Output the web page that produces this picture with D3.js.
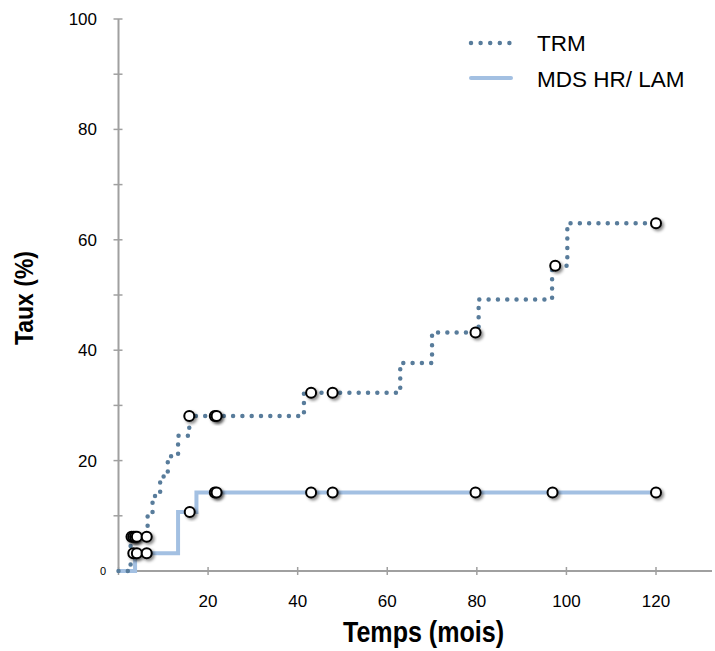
<html>
<script src="https://d3js.org/d3.v7.min.js"></script>
<body style="margin:0;background:#fff">
<div id="chart"></div>
<script>
// step curves (time in months, cumulative rate in %)
var trmTimes = [0, 2.7, 6.5, 7.6, 9.3, 11.0, 13.3, 15.8, 41.4, 62.9, 70.0, 80.4, 96.8, 100.2, 120];
var trmRates = [0, 6.2, 10.0, 13.6, 17.1, 20.8, 24.5, 28.1, 32.3, 37.7, 43.2, 49.2, 55.3, 63.0, 63.0];
var mdsTimes = [0, 3.7, 13.3, 17.4, 120];
var mdsRates = [0, 3.2, 10.7, 14.2, 14.2];

// censored observations
var trmCensT = [2.9, 3.3, 3.7, 4.1, 6.3, 15.8, 21.5, 21.9, 43.0, 47.8, 79.7, 97.5, 120];
var trmCensY = [6.2, 6.2, 6.2, 6.2, 6.2, 28.1, 28.1, 28.1, 32.3, 32.3, 43.2, 55.3, 63.0];
var mdsCensT = [3.3, 4.1, 6.3, 15.9, 21.5, 21.9, 43.0, 47.8, 79.7, 96.9, 120];
var mdsCensY = [3.2, 3.2, 3.2, 10.7, 14.2, 14.2, 14.2, 14.2, 14.2, 14.2, 14.2];

var xTicks = [20, 40, 60, 80, 100, 120];
var yTicks = [20, 40, 60, 80, 100];
var yMinor = [10, 30, 50, 70, 90];
var seriesNames = ["TRM", "MDS HR/ LAM"];

var W = 715, H = 651;
var x = d3.scaleLinear().domain([0, 132.5]).range([118.5, 712]);
var y = d3.scaleLinear().domain([0, 100]).range([571, 19]);

var svg = d3.select("#chart").append("svg")
    .attr("width", W).attr("height", H)
    .style("font-family", "Liberation Sans, Arial, sans-serif");

var defs = svg.append("defs");
var f = defs.append("filter").attr("id", "shadow")
    .attr("x", "-50%").attr("y", "-50%").attr("width", "200%").attr("height", "200%");
f.append("feDropShadow").attr("dx", 2).attr("dy", 2).attr("stdDeviation", 1.5)
    .attr("flood-color", "#000").attr("flood-opacity", 0.45);

var axisColor = "#a0a0a0";

// x axis
svg.append("line").attr("x1", x(0)).attr("x2", x(132.5)).attr("y1", y(0)).attr("y2", y(0))
    .attr("stroke", axisColor).attr("stroke-width", 2);
svg.selectAll(".xt").data([0].concat(xTicks)).enter().append("line")
    .attr("x1", function(d){ return x(d); }).attr("x2", function(d){ return x(d); })
    .attr("y1", y(0) - 4).attr("y2", y(0) + 4)
    .attr("stroke", axisColor).attr("stroke-width", 1.5);
svg.selectAll(".xl").data(xTicks).enter().append("text")
    .attr("x", function(d){ return x(d); }).attr("y", 607)
    .attr("text-anchor", "middle").style("font-size", "17px").text(function(d){ return d; });

// y axis
svg.append("line").attr("x1", x(0)).attr("x2", x(0)).attr("y1", y(0)).attr("y2", y(100))
    .attr("stroke", axisColor).attr("stroke-width", 2);
svg.selectAll(".yt").data(yTicks.concat(yMinor)).enter().append("line")
    .attr("x1", x(0) - 5).attr("x2", x(0) + 4)
    .attr("y1", function(d){ return y(d); }).attr("y2", function(d){ return y(d); })
    .attr("stroke", axisColor).attr("stroke-width", 1.5);
svg.selectAll(".yl").data(yTicks).enter().append("text")
    .attr("x", 97).attr("y", function(d){ return y(d); }).attr("dy", "0.35em")
    .attr("text-anchor", "end").style("font-size", "17px").text(function(d){ return d; });
svg.append("text").attr("x", 106).attr("y", y(0)).attr("dy", "0.35em")
    .attr("text-anchor", "end").style("font-size", "11px").text("0");

// axis titles (condensed bold, as in the original)
svg.append("text").attr("x", 343).attr("y", 642)
    .attr("textLength", 161).attr("lengthAdjust", "spacingAndGlyphs")
    .style("font-size", "30px").style("font-weight", "bold").text("Temps (mois)");
svg.append("text").attr("transform", "translate(33,345) rotate(-90)")
    .attr("textLength", 94).attr("lengthAdjust", "spacingAndGlyphs")
    .style("font-size", "25px").style("font-weight", "bold").text("Taux (%)");

var line = d3.line()
    .x(function(d){ return x(d[0]); })
    .y(function(d){ return y(d[1]); })
    .curve(d3.curveStepAfter);

var trmColor = "#587c9b", mdsColor = "#a3c0e2";

svg.append("path").datum(d3.zip(mdsTimes, mdsRates)).attr("d", line)
    .attr("fill", "none").attr("stroke", mdsColor).attr("stroke-width", 4);
svg.append("path").datum(d3.zip(trmTimes, trmRates)).attr("d", line)
    .attr("fill", "none").attr("stroke", trmColor).attr("stroke-width", 4.5)
    .attr("stroke-linecap", "round").attr("stroke-dasharray", "0,9.3");

// censor marks
function marks(ts, ys) {
  svg.append("g").selectAll("circle").data(d3.zip(ts, ys)).enter().append("circle")
    .attr("cx", function(d){ return x(d[0]); }).attr("cy", function(d){ return y(d[1]); })
    .attr("r", 5).attr("fill", "#fff").attr("stroke", "#000").attr("stroke-width", 2)
    .attr("filter", "url(#shadow)");
}
marks(mdsCensT, mdsCensY);
marks(trmCensT, trmCensY);

// legend
svg.append("line").attr("x1", 471).attr("x2", 519).attr("y1", 43).attr("y2", 43)
    .attr("stroke", trmColor).attr("stroke-width", 4.5)
    .attr("stroke-linecap", "round").attr("stroke-dasharray", "0,9.6");
svg.append("line").attr("x1", 471).attr("x2", 511).attr("y1", 78).attr("y2", 78)
    .attr("stroke", mdsColor).attr("stroke-width", 4).attr("stroke-linecap", "round");
svg.selectAll(".lg").data(seriesNames).enter().append("text")
    .attr("x", 537).attr("y", function(d, i){ return 43 + i * 36; }).attr("dy", "0.35em")
    .style("font-size", "22.5px").text(function(d){ return d; });
</script>
</body>
</html>
